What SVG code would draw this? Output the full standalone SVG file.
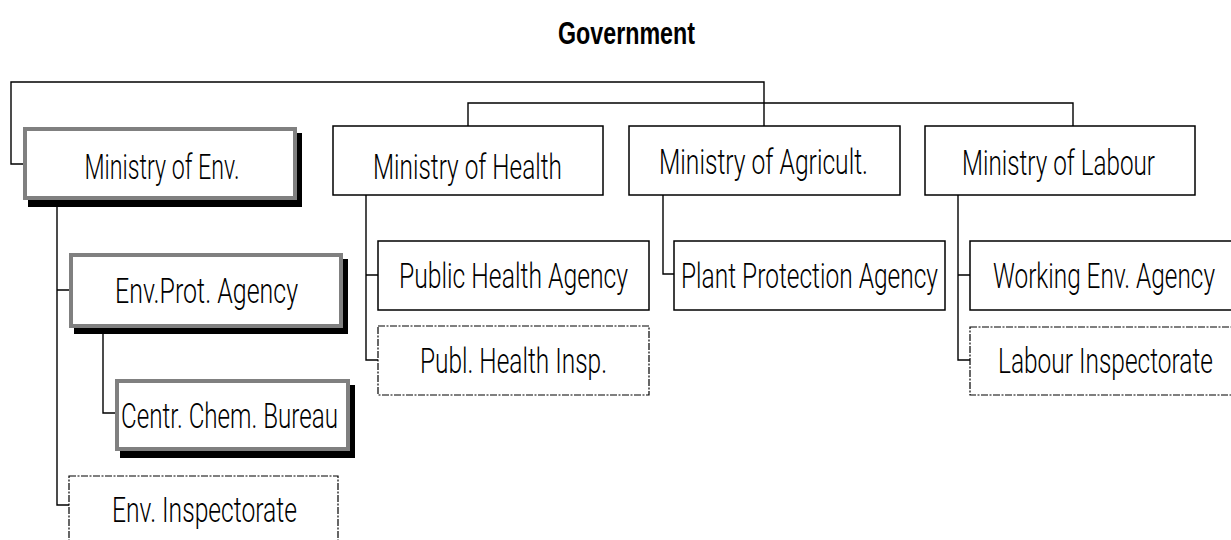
<svg xmlns="http://www.w3.org/2000/svg" width="1231" height="540" viewBox="0 0 1231 540">
<defs>
<style>
.box{fill:#fff;stroke:#000;stroke-width:1.5}
.dash{fill:#fff;stroke:#000;stroke-width:1.2;stroke-dasharray:7 1.5 2 1.5}
.main{fill:#fff;stroke:#808080;stroke-width:4}
.shadow{fill:#000}
.lbl{font-family:Roboto,"Liberation Sans",Arial,sans-serif;font-weight:300;font-size:35px;fill:#000;text-anchor:middle}
.title{font-family:"Liberation Sans",Arial,sans-serif;font-size:32px;font-weight:bold;fill:#000;text-anchor:middle}
.conn{fill:none;stroke:#000;stroke-width:1.4}
</style>
</defs>
<rect width="1231" height="540" fill="#fff"/>
<g id="connectors">
<path class="conn" d="M764,103 V82 H11 V164 H23"/>
<path class="conn" d="M468,126 V103 H1073 V126 M764,103 V126"/>
<path class="conn" d="M57,200 V505 H69 M57,290 H69"/>
<path class="conn" d="M103,328 V413 H115"/>
<path class="conn" d="M366,195 V360 H378 M366,275 H378"/>
<path class="conn" d="M663,195 V274 H674"/>
<path class="conn" d="M958,195 V360 H970 M958,275 H970"/>
</g>
<g id="government">
<text class="title" x="626.5" y="44" textLength="137" lengthAdjust="spacingAndGlyphs">Government</text>
</g>
<g id="ministry-env">
<rect class="shadow" x="28" y="133" width="274" height="74"/>
<rect class="main" x="25" y="129" width="270" height="69"/>
<text class="lbl" x="162" y="179" textLength="155" lengthAdjust="spacingAndGlyphs">Ministry of Env.</text>
</g>
<g id="ministry-health">
<rect class="box" x="333" y="126" width="270" height="69"/>
<text class="lbl" x="467.5" y="179" textLength="189" lengthAdjust="spacingAndGlyphs">Ministry of Health</text>
</g>
<g id="ministry-agricult">
<rect class="box" x="629" y="126" width="271" height="69"/>
<text class="lbl" x="763.5" y="174" textLength="209" lengthAdjust="spacingAndGlyphs">Ministry of Agricult.</text>
</g>
<g id="ministry-labour">
<rect class="box" x="925" y="126" width="270" height="69"/>
<text class="lbl" x="1058.5" y="175" textLength="193" lengthAdjust="spacingAndGlyphs">Ministry of Labour</text>
</g>
<g id="env-prot-agency">
<rect class="shadow" x="74" y="259" width="274" height="75"/>
<rect class="main" x="71" y="255" width="270" height="71"/>
<text class="lbl" x="206.5" y="303" textLength="183" lengthAdjust="spacingAndGlyphs">Env.Prot. Agency</text>
</g>
<g id="centr-chem-bureau">
<rect class="shadow" x="120" y="385" width="235" height="73"/>
<rect class="main" x="117" y="381" width="231" height="68"/>
<text class="lbl" x="229.5" y="428" textLength="217" lengthAdjust="spacingAndGlyphs">Centr. Chem. Bureau</text>
</g>
<g id="env-inspectorate">
<rect class="dash" x="69" y="476" width="269" height="80"/>
<text class="lbl" x="204.5" y="522" textLength="185" lengthAdjust="spacingAndGlyphs">Env. Inspectorate</text>
</g>
<g id="public-health-agency">
<rect class="box" x="378" y="241" width="271" height="69"/>
<text class="lbl" x="513.5" y="288" textLength="229" lengthAdjust="spacingAndGlyphs">Public Health Agency</text>
</g>
<g id="publ-health-insp">
<rect class="dash" x="378" y="326" width="271" height="69"/>
<text class="lbl" x="513.5" y="373" textLength="187" lengthAdjust="spacingAndGlyphs">Publ. Health Insp.</text>
</g>
<g id="plant-protection-agency">
<rect class="box" x="674" y="241" width="271" height="69"/>
<text class="lbl" x="809.5" y="288" textLength="257" lengthAdjust="spacingAndGlyphs">Plant Protection Agency</text>
</g>
<g id="working-env-agency">
<rect class="box" x="970" y="241" width="275" height="69"/>
<text class="lbl" x="1104" y="288" textLength="222" lengthAdjust="spacingAndGlyphs">Working Env. Agency</text>
</g>
<g id="labour-inspectorate">
<rect class="dash" x="970" y="327" width="275" height="68"/>
<text class="lbl" x="1105.5" y="373" textLength="215" lengthAdjust="spacingAndGlyphs">Labour Inspectorate</text>
</g>
</svg>
